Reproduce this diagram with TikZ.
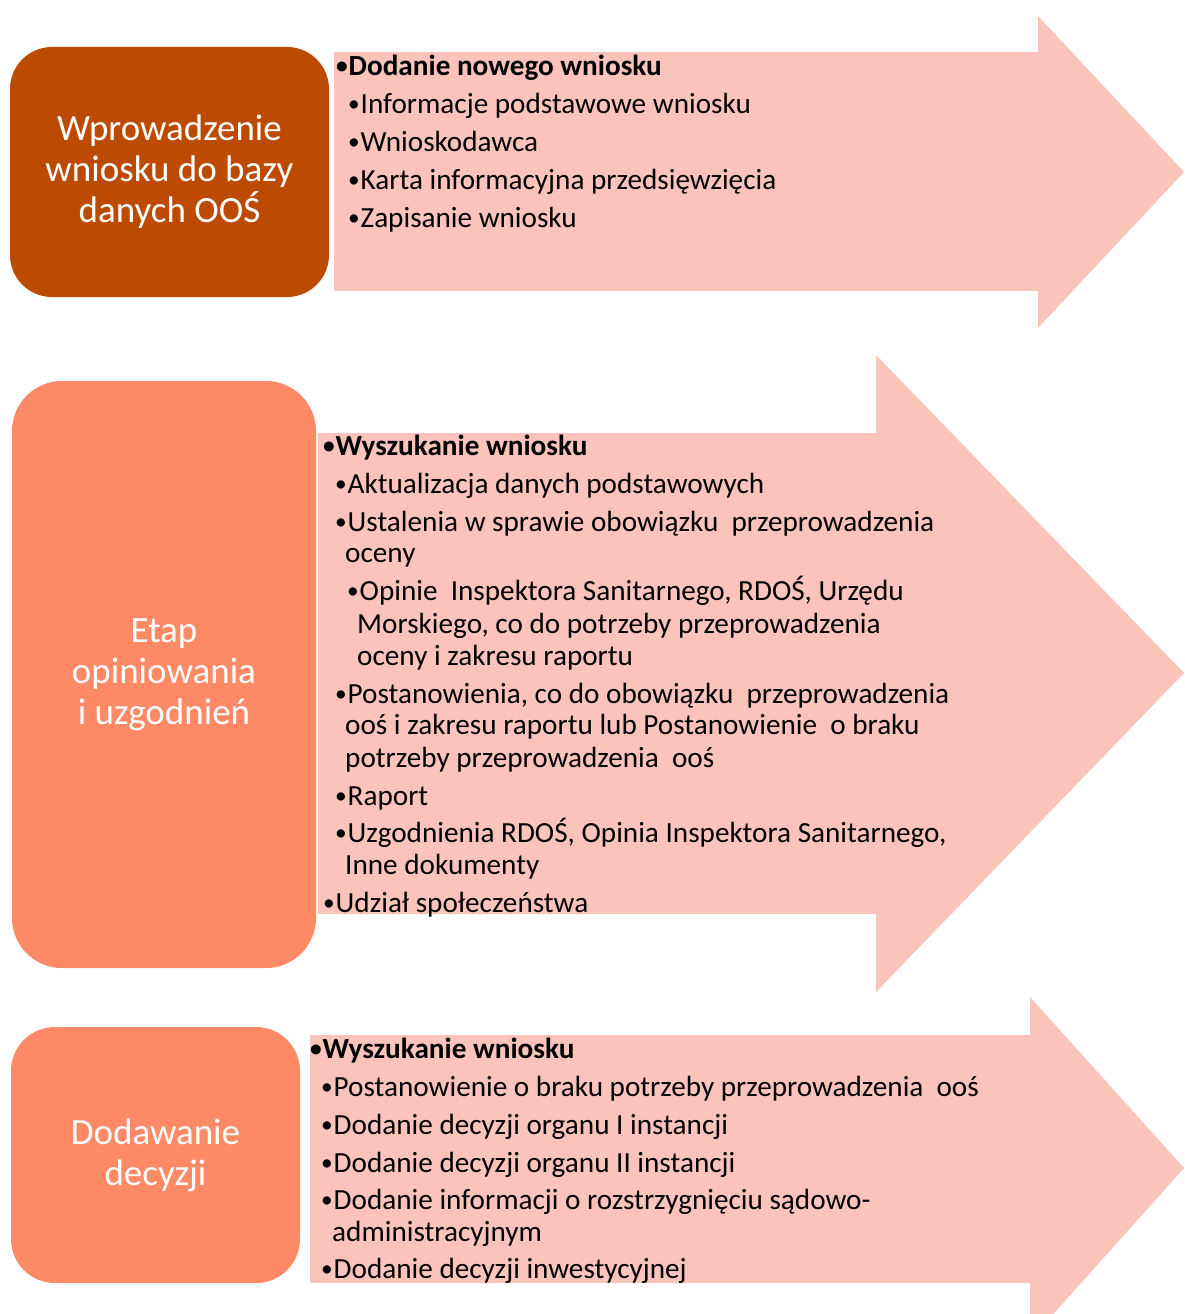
\documentclass[tikz,border=0pt]{standalone}
\usepackage{graphicx}
\usepackage{fontspec}
\setmainfont{Carlito}
\definecolor{darkbox}{HTML}{BC4A00}
\definecolor{coral}{HTML}{FF8A65}
\definecolor{arrowc}{HTML}{FBC4BA}
\newcommand\bul{\makebox[12.5pt][l]{\raisebox{1.5pt}{\scalebox{0.8}{•}}}}
\begin{document}
\begin{tikzpicture}[x=1pt,y=-1pt,
  stage/.style={text=white, align=center, inner sep=0pt,
    font=\fontsize{37}{41}\selectfont},
  ln/.style={anchor=base west, inner sep=0pt, font=\fontsize{29.2}{34}\selectfont, text=black},
  lnb/.style={ln, font=\fontsize{29.2}{34}\selectfont\bfseries}]
\useasboundingbox (0,0) rectangle (1184,1314);
% arrows
\fill[arrowc] (334,52) -- (1038,52) -- (1038,16) -- (1184,172) -- (1038,328) -- (1038,291) -- (334,291) -- cycle;
\fill[arrowc] (318,433) -- (876,433) -- (876,355) -- (1184,673) -- (876,992) -- (876,914) -- (318,914) -- cycle;
\fill[arrowc] (310,1035) -- (1030,1035) -- (1030,997) -- (1184,1168) -- (1030,1340) -- (1030,1283) -- (310,1283) -- cycle;
% stage boxes
\node[stage, fill=darkbox, rounded corners=42pt, minimum width=319pt, minimum height=250pt] (s1) at (169.5,172) {Wprowadzenie\\wniosku do bazy\\danych OOŚ};
\node[stage, fill=coral, rounded corners=50pt, minimum width=304pt, minimum height=587pt] (s2) at (164,674.5) {Etap\\opiniowania\\i uzgodnień};
\node[stage, fill=coral, rounded corners=44pt, minimum width=289pt, minimum height=256pt] (s3) at (155.5,1155) {Dodawanie\\decyzji};
% arrow 1 text
\node[lnb] (a1h) at (336,75) {\bul Dodanie nowego wniosku};
\node[ln] (a1a) at (348,113) {\bul Informacje podstawowe wniosku};
\node[ln] (a1b) at (348,151) {\bul Wnioskodawca};
\node[ln] (a1c) at (348,189) {\bul Karta informacyjna przedsięwzięcia};
\node[ln] (a1d) at (348,227) {\bul Zapisanie wniosku};
% arrow 2 text
\node[lnb] (a2h) at (323,455) {\bul Wyszukanie wniosku};
\node[ln] (a2a) at (335,493) {\bul Aktualizacja danych podstawowych};
\node[ln] (a2b) at (335,531) {\bul Ustalenia w sprawie obowiązku \ przeprowadzenia};
\node[ln] (a2b2) at (345,562) {oceny};
\node[ln] (a2c) at (347,600) {\bul Opinie \ Inspektora Sanitarnego, RDOŚ, Urzędu};
\node[ln] (a2c2) at (357,633) {Morskiego, co do potrzeby przeprowadzenia};
\node[ln] (a2c3) at (357,665) {oceny i zakresu raportu};
\node[ln] (a2d) at (335,703) {\bul Postanowienia, co do obowiązku \ przeprowadzenia};
\node[ln] (a2d2) at (345,734) {ooś i zakresu raportu lub Postanowienie \ o braku};
\node[ln] (a2d3) at (345,767) {potrzeby przeprowadzenia \ ooś};
\node[ln] (a2e) at (335,805) {\bul Raport};
\node[ln] (a2f) at (335,842) {\bul Uzgodnienia RDOŚ, Opinia Inspektora Sanitarnego,};
\node[ln] (a2f2) at (345,874) {Inne dokumenty};
\node[ln] (a2g) at (323,912) {\bul Udział społeczeństwa};
% arrow 3 text
\node[lnb] (a3h) at (310,1058) {\bul Wyszukanie wniosku};
\node[ln] (a3a) at (321,1096) {\bul Postanowienie o braku potrzeby przeprowadzenia \ ooś};
\node[ln] (a3b) at (321,1134) {\bul Dodanie decyzji organu I instancji};
\node[ln] (a3c) at (321,1172) {\bul Dodanie decyzji organu II instancji};
\node[ln] (a3d) at (321,1209) {\bul Dodanie informacji o rozstrzygnięciu sądowo-};
\node[ln] (a3d2) at (332,1241) {administracyjnym};
\node[ln] (a3e) at (321,1278) {\bul Dodanie decyzji inwestycyjnej};
\end{tikzpicture}
\end{document}
